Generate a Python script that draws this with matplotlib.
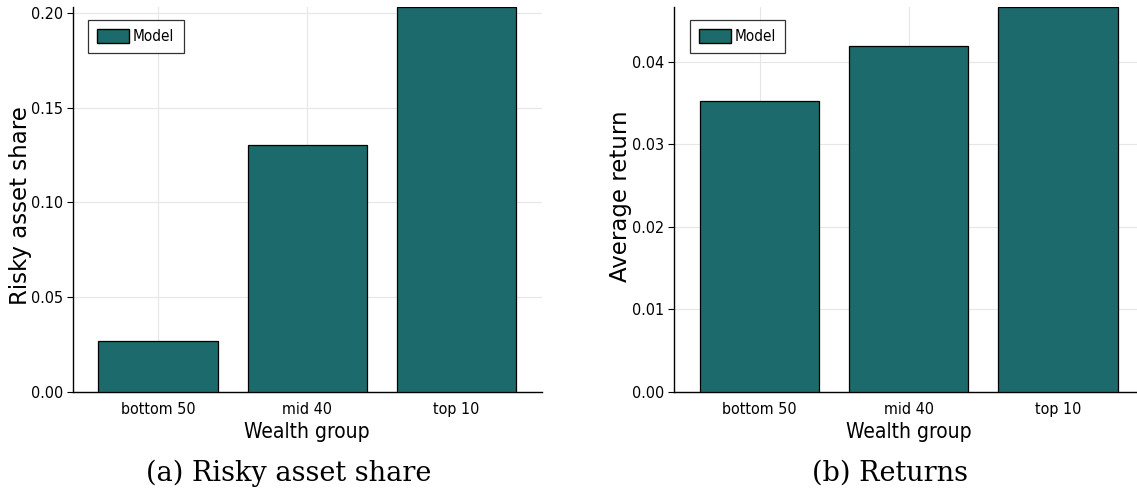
import matplotlib
matplotlib.use("Agg")
import matplotlib.pyplot as plt
from matplotlib.patches import Patch
from matplotlib import font_manager as fm

categories = ["bottom 50", "mid 40", "top 10"]
risky_share = [0.0269, 0.1303, 0.2033]
avg_return = [0.03525, 0.0419, 0.04667]
risky_ticks = [0.00, 0.05, 0.10, 0.15, 0.20]
return_ticks = [0.00, 0.01, 0.02, 0.03, 0.04]
series_name = "Model"
xlabel = "Wealth group"
ylabels = ["Risky asset share", "Average return"]
captions = ["(a) Risky asset share", "(b) Returns"]

bar_color = "#1c6a6c"


def nfont(size):
    return fm.FontProperties(family="DejaVu Sans", stretch="condensed", size=size)


W, H = 1137, 495
fig = plt.figure(figsize=(W / 100, H / 100), dpi=100)
ax_bottom = (H - 392) / H
ax_height = (392 - 6.7) / H
ax1 = fig.add_axes([72.5 / W, ax_bottom, 469.2 / W, ax_height])
ax2 = fig.add_axes([674 / W, ax_bottom, 469.2 / W, ax_height])

panels = [
    (ax1, risky_share, risky_ticks, 0.2033, 20, 206),
    (ax2, avg_return, return_ticks, 0.04667, 620.5, 196),
]

for i, (ax, vals, ticks, ytop, ylx, yly) in enumerate(panels):
    x = list(range(len(categories)))
    ax.bar(x, vals, width=0.8, color=bar_color, edgecolor="black",
           linewidth=0.9, zorder=3)
    ax.set_xlim(-0.573, 2.571)
    ax.set_ylim(0, ytop)
    ax.set_xticks(x)
    ax.set_xticklabels(categories, fontproperties=nfont(11.5))
    ax.set_yticks(ticks)
    ax.set_yticklabels(["{:.2f}".format(t) for t in ticks], fontproperties=nfont(11.5))
    ax.grid(True, color="#e6e6e6", linewidth=0.8, zorder=0)
    for s in ["top", "right"]:
        ax.spines[s].set_visible(False)
    for s in ["left", "bottom"]:
        ax.spines[s].set_linewidth(1.0)
    ax.tick_params(axis="y", length=4, width=0.8, direction="out", pad=3,
                   colors="black")
    ax.tick_params(axis="x", length=0, pad=7)
    ax.set_xlabel(xlabel, fontproperties=nfont(15), labelpad=4)
    fig.text(ylx / W, 1 - yly / H, ylabels[i], rotation=90, ha="center",
             va="center", fontsize=16.5, family="DejaVu Sans")
    ax_w_px = 469.2
    ax_h_px = 392 - 6.7
    leg = ax.legend(handles=[Patch(facecolor=bar_color, edgecolor="black",
                                   linewidth=1.0, label=series_name)],
                    loc="upper left",
                    bbox_to_anchor=(15.5 / ax_w_px, 1 - 13.3 / ax_h_px),
                    prop=nfont(11), frameon=True,
                    fancybox=False, handlelength=2.1, handleheight=1.0,
                    handletextpad=0.25, borderpad=0.6, borderaxespad=0.0)
    leg.get_frame().set_edgecolor("black")
    leg.get_frame().set_linewidth(0.9)

fig.text(288.5 / W, 1 - 473 / H, captions[0], ha="center", va="center",
         fontsize=19.5, family="DejaVu Serif")
fig.text(890 / W, 1 - 473 / H, captions[1], ha="center", va="center",
         fontsize=19.5, family="DejaVu Serif")

fig.savefig("out.png", dpi=100)
